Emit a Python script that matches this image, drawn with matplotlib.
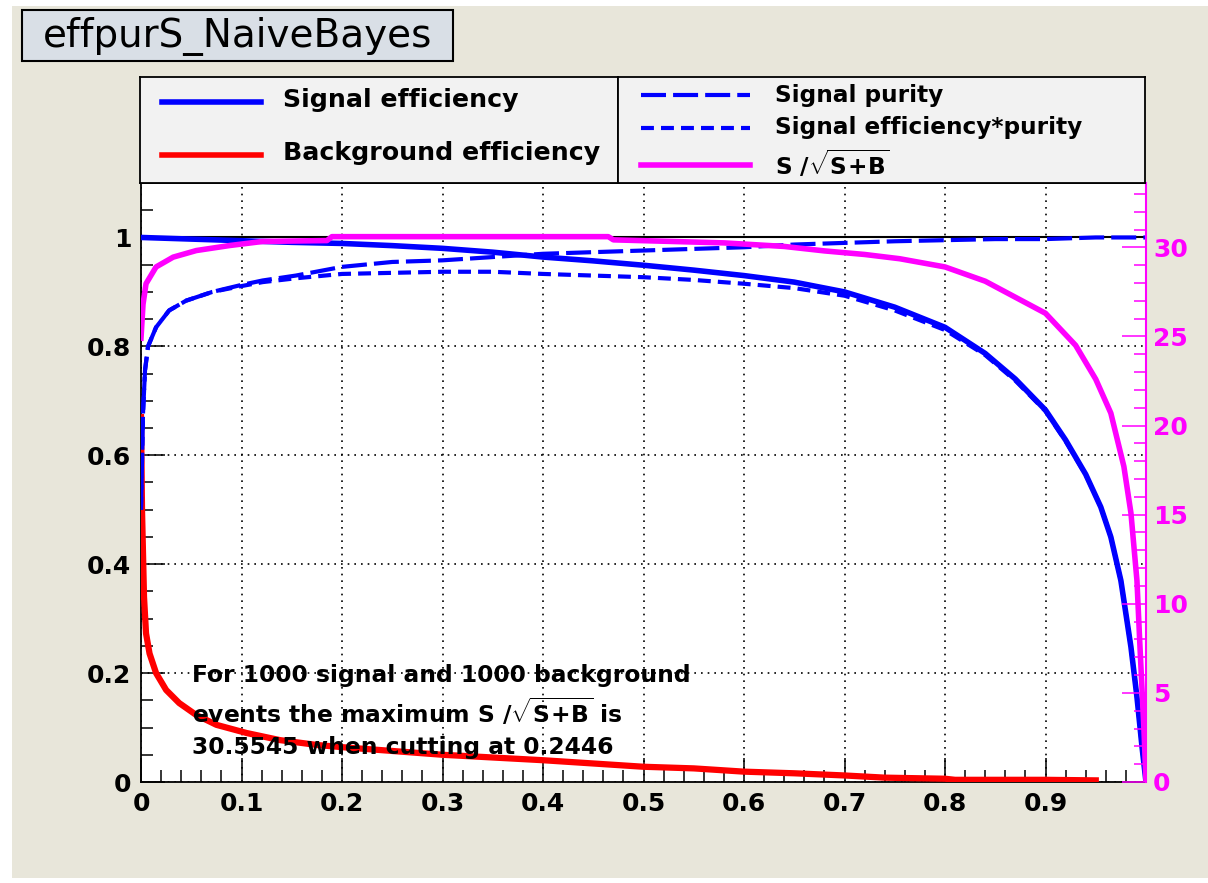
import numpy as np
import matplotlib
matplotlib.use('Agg')
import matplotlib.pyplot as plt
from matplotlib.patches import Rectangle
from matplotlib.ticker import MultipleLocator

plt.rcParams['font.family'] = ['DejaVu Sans']
plt.rcParams['mathtext.fontset'] = 'custom'
plt.rcParams['mathtext.rm'] = 'DejaVu Sans:bold'
plt.rcParams['mathtext.it'] = 'DejaVu Sans:bold'
plt.rcParams['mathtext.bf'] = 'DejaVu Sans:bold'

# signal efficiency (blue solid)
x_eff_s = [0, 0.05, 0.1, 0.15, 0.2, 0.25, 0.3, 0.35, 0.4, 0.45, 0.5, 0.55, 0.6, 0.65,
           0.7, 0.75, 0.8, 0.84, 0.87, 0.9, 0.92, 0.94, 0.955, 0.965, 0.975, 0.985,
           0.991, 0.996, 1.0]
eff_s = [1.0, 0.997, 0.994, 0.991, 0.989, 0.985, 0.98, 0.973, 0.964, 0.957, 0.949, 0.94,
         0.93, 0.918, 0.90, 0.872, 0.835, 0.787, 0.74, 0.683, 0.628, 0.565, 0.505, 0.45,
         0.37, 0.248, 0.156, 0.065, 0.0]

# background efficiency (red)
x_eff_b = [0, 0.001, 0.003, 0.005, 0.0085, 0.015, 0.025, 0.038, 0.055, 0.075, 0.105,
           0.138, 0.175, 0.2, 0.25, 0.3, 0.35, 0.4, 0.45, 0.5, 0.55, 0.6, 0.65, 0.7,
           0.74, 0.8, 0.81, 0.9, 0.95]
eff_b = [0.67, 0.5, 0.34, 0.273, 0.236, 0.2, 0.169, 0.145, 0.123, 0.105, 0.09, 0.077,
         0.068, 0.064, 0.057, 0.05, 0.045, 0.04, 0.034, 0.028, 0.025, 0.019, 0.016,
         0.012, 0.008, 0.006, 0.004, 0.004, 0.003]

# signal purity (long dashes)
x_pur = [0, 0.002, 0.004, 0.007, 0.015, 0.028, 0.045, 0.071, 0.098, 0.121, 0.154, 0.2,
         0.25, 0.3, 0.35, 0.4, 0.45, 0.5, 0.55, 0.6, 0.65, 0.7, 0.75, 0.8, 0.85, 0.9,
         0.95, 1.0]
pur = [0.5, 0.677, 0.756, 0.8, 0.835, 0.866, 0.884, 0.9, 0.912, 0.921, 0.93, 0.946,
       0.955, 0.958, 0.964, 0.97, 0.973, 0.976, 0.979, 0.982, 0.987, 0.99, 0.993, 0.995,
       0.997, 0.997, 1.0, 1.0]

# signal efficiency * purity (short dashes)
x_effpur = [0, 0.002, 0.004, 0.007, 0.015, 0.028, 0.045, 0.071, 0.098, 0.121, 0.154,
            0.2, 0.25, 0.3, 0.35, 0.4, 0.45, 0.5, 0.55, 0.6, 0.65, 0.7, 0.75, 0.8, 0.84,
            0.87, 0.9, 0.92, 0.94, 0.955, 0.965, 0.975, 0.985, 0.991, 0.996, 1.0]
effpur = [0.5, 0.677, 0.756, 0.8, 0.835, 0.866, 0.884, 0.9, 0.91, 0.918, 0.925, 0.933,
          0.935, 0.937, 0.937, 0.933, 0.93, 0.927, 0.922, 0.915, 0.907, 0.893, 0.866,
          0.83, 0.784, 0.737, 0.681, 0.626, 0.564, 0.505, 0.45, 0.37, 0.248, 0.156,
          0.065, 0.0]

# S/sqrt(S+B) (magenta, right axis)
x_sig = [0, 0.002, 0.005, 0.015, 0.032, 0.055, 0.088, 0.121, 0.185, 0.19, 0.3, 0.4,
         0.465, 0.47, 0.58, 0.64, 0.68, 0.72, 0.755, 0.8, 0.84, 0.87, 0.9, 0.93, 0.95,
         0.965, 0.978, 0.985, 0.991, 0.994, 0.998, 1.0]
sig = [24.9, 26.8, 27.96, 28.9, 29.45, 29.82, 30.1, 30.33, 30.38, 30.6, 30.6, 30.6,
       30.6, 30.42, 30.25, 30.05, 29.8, 29.6, 29.36, 28.9, 28.1, 27.2, 26.3, 24.5, 22.6,
       20.7, 17.7, 15.1, 11.3, 7.6, 2.9, 0]

max_sig = 30.5545
cut_at = 0.2446
n_sig = 1000
n_bkg = 1000

W, H = 1208, 883
bg = '#e8e6da'
blue = '#0000ff'
red = '#ff0000'
magenta = '#ff00ff'
sqrt_txt = r'S /$\sqrt{S\!+\!B}$'

fig = plt.figure(figsize=(W / 100, H / 100), dpi=100, facecolor='white')
fig.patches.append(Rectangle((12 / W, 1 - 878 / H), 1, 872 / H, transform=fig.transFigure,
                             facecolor=bg, edgecolor='none', zorder=-5))

# title box
fig.patches.append(Rectangle((22 / W, 1 - 61 / H), 431 / W, 51 / H, transform=fig.transFigure,
                             facecolor='#d9dfe6', edgecolor='black', lw=1.5, zorder=-1))
fig.text(237.5 / W, 1 - 36 / H, 'effpurS_NaiveBayes', fontsize=28, ha='center', va='center')

ax = fig.add_axes([141 / W, 1 - 782 / H, 1005 / W, 599 / H])
ax.set_xlim(0, 1)
ax.set_ylim(0, 1.1)
ax.grid(True, color='black', linestyle=(0, (1, 3)), linewidth=1.2)
ax.axhline(1.0, color='black', lw=1.5, zorder=2)

ax.plot(x_eff_s, eff_s, color=blue, lw=4, zorder=3)
ax.plot(x_eff_b, eff_b, color=red, lw=4.5, zorder=3)
ax.plot(x_pur, pur, color=blue, lw=3, dashes=(6, 1.7), zorder=3)
ax.plot(x_effpur, effpur, color=blue, lw=3, dashes=(3.1, 1.7), zorder=3)

ax.xaxis.set_minor_locator(MultipleLocator(0.02))
ax.yaxis.set_minor_locator(MultipleLocator(0.05))
ax.set_xticks(np.arange(0, 1.0, 0.1))
ax.set_xticklabels(['0', '0.1', '0.2', '0.3', '0.4', '0.5', '0.6', '0.7', '0.8', '0.9'])
ax.set_yticks([0, 0.2, 0.4, 0.6, 0.8, 1.0])
ax.set_yticklabels(['0', '0.2', '0.4', '0.6', '0.8', '1'])
ax.tick_params(which='both', direction='in', top=False, right=False, width=1.1)
ax.tick_params(which='major', length=17, labelsize=18, pad=7)
ax.tick_params(which='minor', length=8.5)
for lab in ax.get_xticklabels() + ax.get_yticklabels():
    lab.set_fontweight('bold')
for s in ['left', 'bottom', 'top']:
    ax.spines[s].set_linewidth(1.3)
ax.spines['right'].set_visible(False)

ax2 = ax.twinx()
ax2.set_ylim(0, 1.1 * max_sig)
ax2.plot(x_sig, sig, color=magenta, lw=4, zorder=4)
ax2.yaxis.set_major_locator(MultipleLocator(5))
ax2.yaxis.set_minor_locator(MultipleLocator(1))
ax2.tick_params(which='both', direction='in', colors=magenta, width=1.1)
ax2.tick_params(which='major', length=17, labelsize=18, pad=5)
ax2.tick_params(which='minor', length=8.5)
for lab in ax2.get_yticklabels():
    lab.set_fontweight('bold')
ax2.spines['right'].set_color(magenta)
ax2.spines['right'].set_linewidth(1.5)
for s in ['left', 'bottom', 'top']:
    ax2.spines[s].set_visible(False)

txt_x = 0.051
ax.text(txt_x, 0.196, 'For %d signal and %d background' % (n_sig, n_bkg),
        fontsize=16.8, fontweight='bold', va='center', zorder=5)
ax.text(txt_x, 0.128, 'events the maximum ' + sqrt_txt + ' is',
        fontsize=16.8, fontweight='bold', va='center', zorder=5)
ax.text(txt_x, 0.064, '%.4f when cutting at %.4f' % (max_sig, cut_at),
        fontsize=16.8, fontweight='bold', va='center', zorder=5)

# legend boxes
leg1 = fig.add_axes([140 / W, 1 - 183 / H, 478 / W, 106 / H])
leg2 = fig.add_axes([618 / W, 1 - 183 / H, 527 / W, 106 / H])
for lg in (leg1, leg2):
    lg.set_xlim(0, 1)
    lg.set_ylim(0, 1)
    lg.set_facecolor('#f2f2f2')
    lg.set_xticks([])
    lg.set_yticks([])
    for s in lg.spines.values():
        s.set_linewidth(1.3)

leg1.plot([0.046, 0.253], [0.764, 0.764], color=blue, lw=4)
leg1.plot([0.046, 0.253], [0.264, 0.264], color=red, lw=4)
leg1.text(0.299, 0.78, 'Signal efficiency', fontsize=18.2, fontweight='bold', va='center')
leg1.text(0.299, 0.28, 'Background efficiency', fontsize=18.2, fontweight='bold', va='center')

leg2.plot([0.0436, 0.2505], [0.83, 0.83], color=blue, lw=3, dashes=(6, 1.7))
leg2.plot([0.0436, 0.2505], [0.519, 0.519], color=blue, lw=3, dashes=(3.1, 1.7))
leg2.plot([0.0436, 0.2505], [0.17, 0.17], color=magenta, lw=4)
leg2.text(0.298, 0.83, 'Signal purity', fontsize=16.7, fontweight='bold', va='center')
leg2.text(0.298, 0.52, 'Signal efficiency*purity', fontsize=16.7, fontweight='bold', va='center')
leg2.text(0.298, 0.18, sqrt_txt, fontsize=16.7, fontweight='bold', va='center')

fig.savefig('out.png', dpi=100, facecolor=fig.get_facecolor())
